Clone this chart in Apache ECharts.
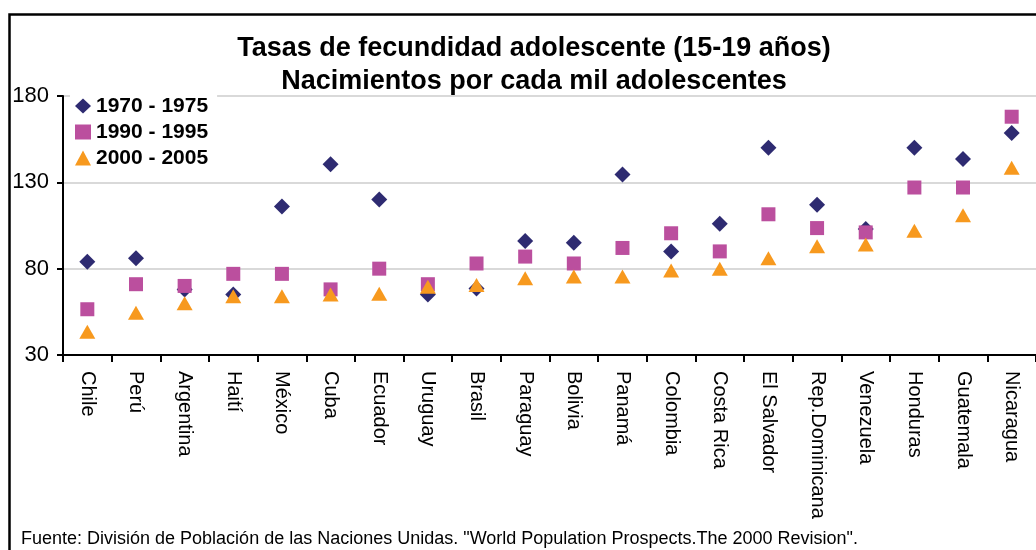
<!DOCTYPE html>
<html>
<head>
<meta charset="utf-8">
<script src="https://cdn.jsdelivr.net/npm/echarts@6/dist/echarts.min.js"></script>
<style>
    html, body { margin: 0; padding: 0; background: #fff; }
    #chart { width: 1036px; height: 550px; }
</style>
</head>
<body>
<div id="chart"></div>
<script>
let chart = echarts.init(document.getElementById('chart'));

// países
let paises = ['Chile', 'Perú', 'Argentina', 'Haití', 'México', 'Cuba', 'Ecuador', 'Uruguay', 'Brasil', 'Paraguay',
    'Bolivia', 'Panamá', 'Colombia', 'Costa Rica', 'El Salvador', 'Rep.Dominicana', 'Venezuela', 'Honduras', 'Guatemala', 'Nicaragua'];

// nacimientos por cada mil adolescentes
let tasas_1970_1975 = [84, 86, 68, 65, 116, 140.5, 120, 65, 68.5, 96, 95, 134.5, 90, 106, 150, 117, 103, 150, 143.5, 158.5];
let tasas_1990_1995 = [56.5, 71, 70, 77, 77, 68, 80, 71, 83, 87, 83, 92, 100.5, 90, 111.5, 103.5, 101, 127, 127, 168];
let tasas_2000_2005 = [43.5, 54.5, 60, 64, 64, 65, 65.5, 69.5, 70.5, 74.5, 75.5, 75.5, 79, 80, 86, 93, 94, 102, 111, 138.5];

let yTicks = [30, 80, 130, 180];

let fuente = 'Arial, "Liberation Sans", sans-serif';

let option = {
    animation: false,
    backgroundColor: '#fff',
    textStyle: {fontFamily: fuente},
    title: {
        text: 'Tasas de fecundidad adolescente (15-19 años)\nNacimientos por cada mil adolescentes',
        left: 529,
        top: 27,
        textAlign: 'center',
        textStyle: {
            fontFamily: fuente,
            fontSize: 27,
            fontWeight: 'bold',
            color: '#000',
            lineHeight: 33
        }
    },
    legend: {
        orient: 'vertical',
        left: 70,
        top: 90,
        padding: [3, 9, 3, 5],
        itemGap: 0,
        itemWidth: 16,
        itemHeight: 15,
        backgroundColor: '#fff',
        textStyle: {
            fontFamily: fuente,
            fontSize: 21,
            fontWeight: 'bold',
            color: '#000',
            lineHeight: 26
        },
        data: [
            {name: '1970 - 1975', icon: 'diamond'},
            {name: '1990 - 1995', icon: 'rect'},
            {name: '2000 - 2005', icon: 'triangle'}
        ]
    },
    grid: {
        left: 63,
        right: -7,
        top: 96,
        bottom: 195,
        containLabel: false
    },
    xAxis: {
        type: 'category',
        data: paises,
        boundaryGap: true,
        axisLine: {lineStyle: {color: '#000', width: 2}},
        axisTick: {show: true, length: 7, lineStyle: {color: '#000', width: 2}},
        axisLabel: {
            rotate: -90,
            margin: 16,
            interval: 0,
            fontSize: 20,
            color: '#000',
            fontFamily: fuente
        }
    },
    yAxis: {
        type: 'value',
        min: yTicks[0],
        max: yTicks[yTicks.length - 1],
        interval: 50,
        axisLine: {show: true, lineStyle: {color: '#000', width: 2}},
        axisTick: {show: true, length: 6, lineStyle: {color: '#000', width: 2}},
        axisLabel: {
            margin: 14,
            fontSize: 22,
            color: '#000',
            fontFamily: fuente
        },
        splitLine: {show: true, lineStyle: {color: '#d9d9d9', width: 2}}
    },
    series: [
        {
            name: '1970 - 1975',
            type: 'scatter',
            data: tasas_1970_1975,
            symbol: 'diamond',
            symbolSize: [16, 16],
            itemStyle: {color: '#2e2b71', opacity: 1}
        },
        {
            name: '1990 - 1995',
            type: 'scatter',
            data: tasas_1990_1995,
            symbol: 'rect',
            symbolSize: 14,
            itemStyle: {color: '#bb4f9e', opacity: 1}
        },
        {
            name: '2000 - 2005',
            type: 'scatter',
            data: tasas_2000_2005,
            symbol: 'triangle',
            symbolSize: [16, 14],
            itemStyle: {color: '#f7991e', opacity: 1}
        }
    ],
    graphic: [
        {
            type: 'rect',
            left: 7,
            top: 12,
            shape: {width: 1100, height: 600},
            style: {fill: 'none', stroke: '#000', lineWidth: 2.5},
            silent: true
        },
        {
            type: 'text',
            left: 21,
            top: 530,
            style: {
                text: 'Fuente: División de Población de las Naciones Unidas. "World Population Prospects.The 2000 Revision".',
                font: '18px Arial, "Liberation Sans", sans-serif',
                fill: '#000'
            }
        }
    ]
};

chart.setOption(option);
</script>
</body>
</html>
